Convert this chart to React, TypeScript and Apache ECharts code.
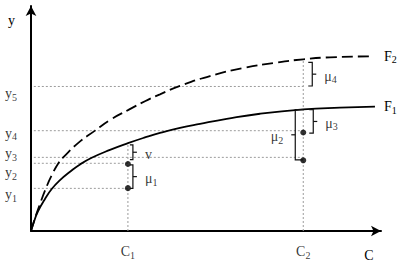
import React, { useEffect, useRef } from 'react';
import * as echarts from 'echarts';

// ---- data ----
const X_MAX = 98.6;
const Y_MAX = 98.7;
const C1 = 27.3;
const C2 = 76.7;

const f1X = [0, 0.85, 1.97, 3.86, 5.83, 8.17, 10.99, 13.8, 17.1, 22.25, 27.32, 32.11, 36.34, 41.97, 47.61, 55.13, 64.51, 76.7, 87.04, 96.9];
const f1Y = [0, 4.11, 8.66, 13.85, 18.4, 22.29, 25.97, 29.22, 32.12, 35.58, 38.53, 41.04, 43.03, 45.24, 47.01, 49.18, 51.43, 53.33, 54.11, 54.55];
const f2X = [0, 0.85, 1.69, 2.54, 3.94, 5.92, 7.89, 9.15, 13.24, 18.03, 22.25, 27.32, 32.11, 36.34, 41.97, 50.42, 59.72, 69.21, 76.7, 84.23, 96.06];
const f2Y = [0, 4.33, 8.23, 11.9, 17.75, 24.68, 30.17, 32.38, 38.53, 44.03, 48.7, 53.03, 56.93, 59.96, 63.64, 67.97, 71.43, 73.9, 75.32, 76.19, 76.62];

const guideY = [63.4, 44.0, 32.3, 29.7, 18.7];
const guideEndX = [C2, C2, C2, C1, C1];
const guideStartX = 0.8;

const vGuideX = [C1, C2];
const vGuideTop = [38.53, 75.32];

const dotX = [C1, C1, C2, C2];
const dotY = [29.4, 18.8, 43.2, 31.0];

const yTickNames = ['y1', 'y2', 'y3', 'y4', 'y5'];
const yTickAt = [16.0, 25.5, 33.8, 42.9, 60.2];

const xTickNames = ['C1', 'C2'];
const xTickAt = [C1, C2];

const bracketNames = ['v', 'μ1', 'μ4', 'μ3', 'μ2'];
const bracketX = [C1, C1, C2, C2, C2];
const bracketTop = [37.8, 29.0, 74.0, 53.2, 53.2];
const bracketBottom = [31.3, 18.7, 63.6, 42.9, 31.2];
const bracketSide = [1, 1, 1, 1, -1];

// ---- styling ----
const bracketGap = [5, 5, 9, 10, 8];
const bracketStub = [3, 3, 4, 4, 8];
const FONT = "'Liberation Serif', 'Times New Roman', serif";
const INK = '#000';
const GUIDE = { color: '#9c9c9c', width: 1, type: [2, 2] as number[] };

const RICH = {
  m: { fontSize: 14, fontFamily: FONT, color: INK },
  s: { fontSize: 10, fontFamily: FONT, color: INK, padding: [7, 0, 0, 0] },
};

function sub(label: string): string {
  const m = label.match(/^(\D+)(\d*)$/);
  if (!m || !m[2]) return `{m|${label}}`;
  return `{m|${m[1]}}{s|${m[2]}}`;
}

export default function App() {
  const ref = useRef<HTMLDivElement>(null);
  useEffect(() => {
    if (!ref.current) return;
    const chart = echarts.init(ref.current, undefined, { renderer: 'svg' });

    const guideSeries = guideY.map((y, i) => ({
      type: 'line',
      data: [[guideStartX, y], [guideEndX[i], y]],
      symbol: 'none',
      silent: true,
      z: 1,
      lineStyle: GUIDE,
    }));
    const vGuideSeries = vGuideX.map((x, i) => ({
      type: 'line',
      data: [[x, 0], [x, vGuideTop[i]]],
      symbol: 'none',
      silent: true,
      z: 1,
      lineStyle: GUIDE,
    }));

    const axisCommon = {
      type: 'value',
      nameLocation: 'end',
      axisLine: {
        show: true, onZero: false,
        symbol: ['none', 'arrow'], symbolSize: [8, 10],
        lineStyle: { color: INK, width: 2 },
      },
      axisTick: { show: false },
      axisLabel: { show: false },
      splitLine: { show: false },
    };

    const option: any = {
      animation: false,
      backgroundColor: '#fff',
      grid: { left: 31, right: 19, top: 6, bottom: 28, containLabel: false },
      xAxis: {
        ...axisCommon,
        min: 0,
        max: X_MAX,
        name: 'C',
        nameGap: -12,
        nameTextStyle: {
          fontFamily: FONT, fontSize: 14, color: INK,
          align: 'center', verticalAlign: 'top', padding: [17, 0, 0, 0],
        },
      },
      yAxis: {
        ...axisCommon,
        min: 0,
        max: Y_MAX,
        name: 'y',
        nameGap: -14,
        nameTextStyle: {
          fontFamily: FONT, fontSize: 14, color: INK,
          align: 'right', verticalAlign: 'middle', padding: [0, 16, 0, 0],
        },
      },
      series: [
        ...guideSeries,
        ...vGuideSeries,
        {
          type: 'line',
          name: 'F1',
          data: f1X.map((x, i) => [x, f1Y[i]]),
          smooth: 0.5,
          symbol: 'none',
          z: 3,
          lineStyle: { color: INK, width: 1.8 },
          endLabel: { show: true, formatter: () => sub('F1'), distance: 9, rich: RICH },
        },
        {
          type: 'line',
          name: 'F2',
          data: f2X.map((x, i) => [x, f2Y[i]]),
          smooth: 0.5,
          symbol: 'none',
          z: 3,
          lineStyle: { color: INK, width: 1.8, type: [11, 5] },
          endLabel: { show: true, formatter: () => sub('F2'), distance: 12, rich: RICH },
        },
        {
          type: 'scatter',
          data: dotX.map((x, i) => [x, dotY[i]]),
          symbol: 'circle',
          symbolSize: 6,
          z: 4,
          itemStyle: { color: INK },
        },
        {
          type: 'scatter',
          data: yTickNames.map((n, i) => ({ name: n, value: [0, yTickAt[i]] })),
          symbolSize: 0,
          silent: true,
          label: { show: true, position: 'left', distance: 14, formatter: (p: any) => sub(p.name), rich: RICH },
        },
        {
          type: 'scatter',
          data: xTickNames.map((n, i) => ({ name: n, value: [xTickAt[i], 0] })),
          symbolSize: 0,
          silent: true,
          label: { show: true, position: 'bottom', distance: 12, formatter: (p: any) => sub(p.name), rich: RICH },
        },
        {
          // bracket labels
          type: 'scatter',
          symbolSize: 0,
          silent: true,
          z: 5,
          data: bracketNames.map((n, i) => ({
            name: n,
            value: [bracketX[i], (bracketTop[i] + bracketBottom[i]) / 2],
            label: {
              position: bracketSide[i] > 0 ? 'right' : 'left',
              distance: bracketGap[i] + 12,
            },
          })),
          label: { show: true, offset: [0, 2], formatter: (p: any) => sub(p.name), rich: RICH },
        },
        {
          type: 'custom',
          z: 5,
          silent: true,
          encode: { x: 0, y: [1, 2] },
          data: bracketX.map((x, i) => [x, bracketTop[i], bracketBottom[i]]),
          renderItem: (params: any, api: any) => {
            const i = params.dataIndex;
            const x = api.value(0);
            const pTop = api.coord([x, api.value(1)]);
            const pBot = api.coord([x, api.value(2)]);
            const side = bracketSide[i];
            const xb = pTop[0] + side * bracketGap[i];
            const xs = xb - side * bracketStub[i];
            const ym = (pTop[1] + pBot[1]) / 2;
            return {
              type: 'group',
              children: [
                {
                  type: 'polyline',
                  shape: { points: [[xs, pTop[1]], [xb, pTop[1]], [xb, pBot[1]], [xs, pBot[1]]] },
                  style: { stroke: '#111', lineWidth: 1.2, fill: null },
                },
                {
                  type: 'line',
                  shape: { x1: xb, y1: ym, x2: xb + side * 4, y2: ym },
                  style: { stroke: '#111', lineWidth: 1.2 },
                },
              ],
            };
          },
        },
      ],
    };
    chart.setOption(option);
    return () => chart.dispose();
  }, []);
  return (
    <div
      ref={ref}
      style={{ position: 'fixed', left: 0, top: 0, width: 400, height: 262, background: '#fff' }}
    />
  );
}
